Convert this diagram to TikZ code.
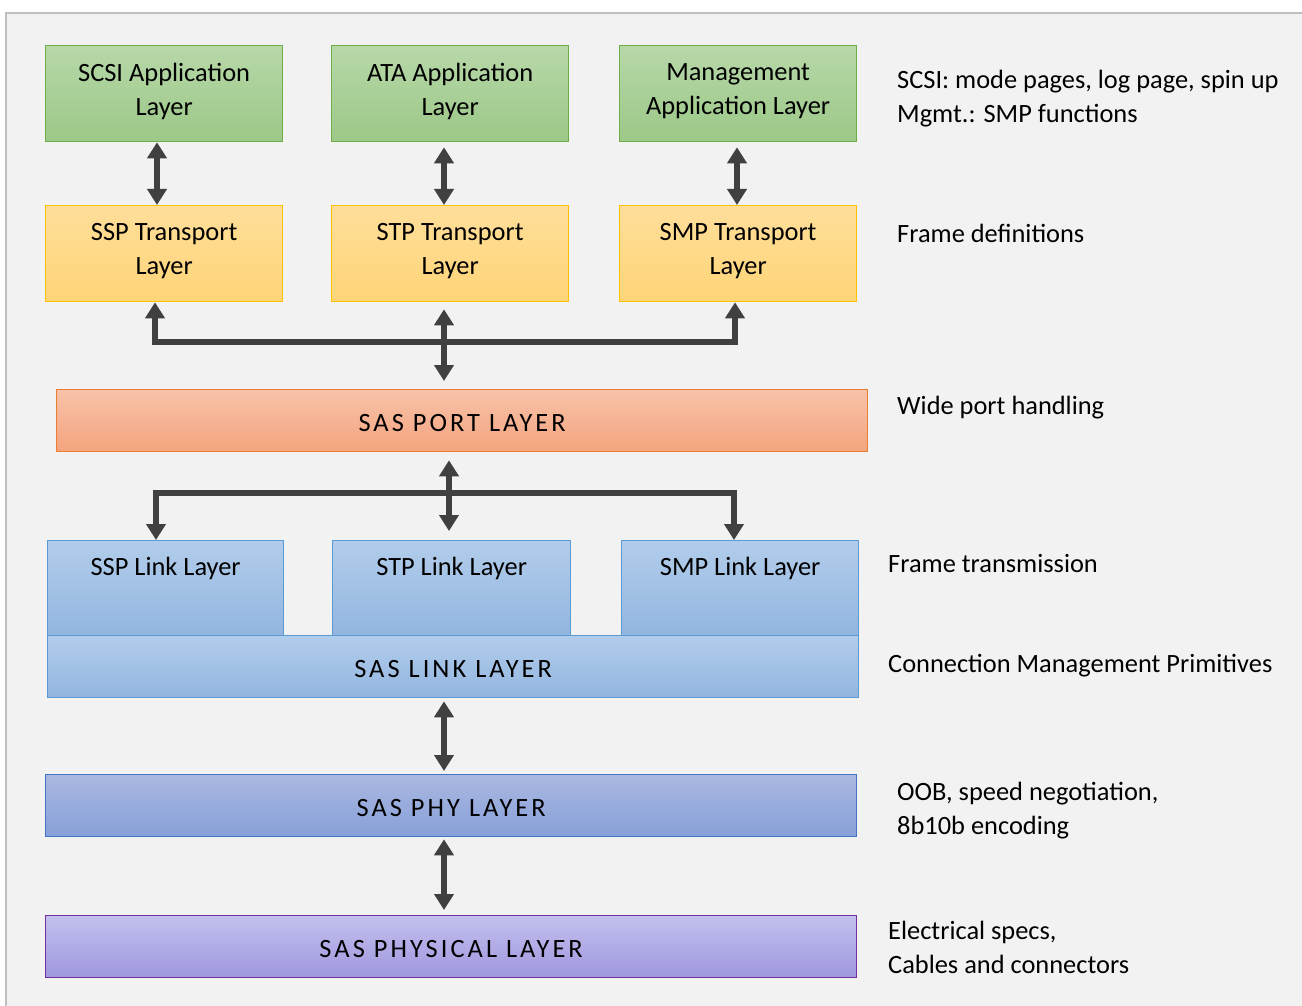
\documentclass[tikz,border=0pt]{standalone}
\usepackage{fontspec}
\setmainfont{Carlito}
\usetikzlibrary{arrows.meta,calc}
\definecolor{bggrey}{HTML}{F2F2F2}
\definecolor{bgline}{HTML}{BFBFBF}
\definecolor{arr}{HTML}{404040}
\definecolor{gTop}{HTML}{B7D8A9}\definecolor{gBot}{HTML}{9CC887}\definecolor{gLine}{HTML}{70AD47}
\definecolor{yTop}{HTML}{FFDE9A}\definecolor{yBot}{HTML}{FFD577}\definecolor{yLine}{HTML}{FFC000}
\definecolor{oTop}{HTML}{F8C2A9}\definecolor{oBot}{HTML}{F4A47E}\definecolor{oLine}{HTML}{ED7D31}
\definecolor{bTop}{HTML}{B2CDEB}\definecolor{bBot}{HTML}{92B5E0}\definecolor{bLine}{HTML}{5B9BD5}
\definecolor{pTop}{HTML}{AAB8E1}\definecolor{pBot}{HTML}{87A0D8}\definecolor{pLine}{HTML}{4472C4}
\definecolor{vTop}{HTML}{C3C0EE}\definecolor{vBot}{HTML}{9E97DE}\definecolor{vLine}{HTML}{7030A0}
\newcommand{\spaced}[1]{{\addfontfeature{LetterSpace=11.5}\rule{0pt}{21pt}#1}}
\newcommand{\lowstrut}{\rule[-8.5pt]{0pt}{1pt}}
\tikzset{
  layerbox/.style={rectangle, inner sep=0pt, line width=1.3pt, anchor=north west,
    align=center, font=\fontsize{26.4}{34}\selectfont, text=black},
  greenbox/.style={layerbox, draw=gLine, top color=gTop, bottom color=gBot},
  yellowbox/.style={layerbox, draw=yLine, top color=yTop, bottom color=yBot},
  orangebox/.style={layerbox, draw=oLine, top color=oTop, bottom color=oBot},
  bluebox/.style={layerbox, draw=bLine, top color=bTop, bottom color=bBot},
  phybox/.style={layerbox, draw=pLine, top color=pTop, bottom color=pBot},
  physbox/.style={layerbox, draw=vLine, top color=vTop, bottom color=vBot},
  note/.style={anchor=west, align=left, inner sep=0pt, font=\fontsize{26.4}{34}\selectfont, text=black},
  boxtext/.style={inner sep=0pt, font=\fontsize{26.4}{34}\selectfont, text=black},
  conn/.style={draw=arr, line width=6pt, line join=miter,
    arrows={Triangle[width=19pt,length=16pt]-Triangle[width=19pt,length=16pt]}},
}
\begin{document}
\begin{tikzpicture}[x=1pt,y=-1pt]
\useasboundingbox (0,0) rectangle (1302,1006);
\fill[white] (0,0) rectangle (1302,1006);
\draw[fill=bggrey, draw=bgline, line width=1.5pt] (6,13) rectangle (1320,1020);

% application layer
\node[greenbox, minimum width=237pt, minimum height=96pt] (scsi) at (45,45) {SCSI Application\\Layer\lowstrut};
\node[greenbox, minimum width=237pt, minimum height=96pt] (ata) at (331,45) {ATA Application\\Layer\lowstrut};
\node[greenbox, minimum width=237pt, minimum height=96pt] (mgmt) at (619,45) {Management\\Application Layer\lowstrut};
% transport layer
\node[yellowbox, minimum width=237pt, minimum height=96pt] (ssp) at (45,205) {SSP Transport\\Layer\lowstrut};
\node[yellowbox, minimum width=237pt, minimum height=96pt] (stp) at (331,205) {STP Transport\\Layer\lowstrut};
\node[yellowbox, minimum width=237pt, minimum height=96pt] (smp) at (619,205) {SMP Transport\\Layer\lowstrut};
% port layer
\node[orangebox, minimum width=811pt, minimum height=62pt] (port) at (56,389) {\spaced{SAS PORT LAYER}};
% link layers
\node[bluebox, minimum width=236pt, minimum height=95pt] (ssplink) at (47,540) {};
\node[bluebox, minimum width=238pt, minimum height=95pt] (stplink) at (332,540) {};
\node[bluebox, minimum width=237pt, minimum height=95pt] (smplink) at (621,540) {};
\node[boxtext] (ssplinkT) at ($(ssplink.north)+(0,28)$) {SSP Link Layer};
\node[boxtext] (stplinkT) at ($(stplink.north)+(0,28)$) {STP Link Layer};
\node[boxtext] (smplinkT) at ($(smplink.north)+(0,28)$) {SMP Link Layer};
\node[bluebox, minimum width=811pt, minimum height=62pt] (link) at (47,635) {\spaced{SAS LINK LAYER}};
% phy layers
\node[phybox, minimum width=811pt, minimum height=62pt] (phy) at (45,774) {\spaced{SAS PHY LAYER}};
\node[physbox, minimum width=811pt, minimum height=62pt] (phys) at (45,915) {\spaced{SAS PHYSICAL LAYER}};

% notes
\node[note] (n1) at (897,99) {SCSI: mode pages, log page, spin up\\Mgmt.: SMP functions};
\node[note] (n2) at (897,233) {Frame definitions};
\node[note] (n3) at (897,408) {Wide port handling};
\node[note] (n4) at (888,564) {Frame transmission};
\node[note] (n5) at (888,666) {Connection Management Primitives};
\node[note] (n6) at (897,811) {OOB, speed negotiation,\\8b10b encoding};
\node[note] (n7) at (888,947) {Electrical specs,\\Cables and connectors};

% x positions for connectors
\coordinate (xa) at (157,0);
\coordinate (xb) at (444,0);
\coordinate (xc) at (737,0);
\coordinate (xl) at (155,0);
\coordinate (xr) at (735,0);
\coordinate (xm) at (449,0);
\coordinate (xl2) at (156,0);
\coordinate (xr2) at (734,0);
\coordinate (busU) at (444,342);
\coordinate (busD) at (449,493);

% app <-> transport
\draw[conn] (scsi.south -| xa) -- (ssp.north -| xa);
\draw[conn] ($(ata.south -| xb)+(0,5)$) -- (stp.north -| xb);
\draw[conn] ($(mgmt.south -| xc)+(0,5)$) -- (smp.north -| xc);

% transport bus
\draw[conn] (ssp.south -| xl) |- (busU) -| (smp.south -| xr);
\draw[conn] ($(stp.south -| xb)+(0,7)$) -- ($(port.north -| xb)+(0,-8)$);

% port to link bus
\draw[conn] ($(port.south -| xm)+(0,8)$) -- ($(stplink.north -| xm)+(0,-9)$);
\draw[conn] (ssplink.north -| xl2) |- (busD) -| (smplink.north -| xr2);

% link <-> phy <-> physical
\draw[conn] ($(link.south -| xb)+(0,3)$) -- ($(phy.north -| xb)+(0,-3)$);
\draw[conn] ($(phy.south -| xb)+(0,2)$) -- ($(phys.north -| xb)+(0,-5)$);
\end{tikzpicture}
\end{document}
